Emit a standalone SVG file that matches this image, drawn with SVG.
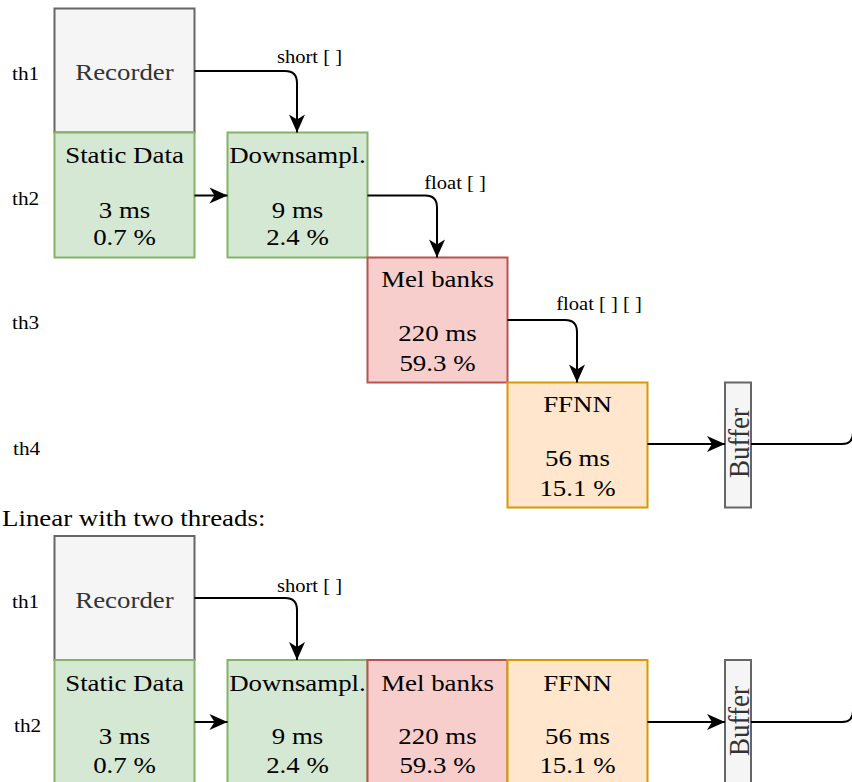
<svg xmlns="http://www.w3.org/2000/svg" width="852" height="782" viewBox="0 0 852 782">
  <style>
    text { font-family: "Liberation Serif", "Times New Roman", serif; }
    .box { stroke-width: 2; }
    .gray { fill: #f5f5f5; stroke: #666666; }
    .green { fill: #d5e8d4; stroke: #82b366; }
    .red { fill: #f8cecc; stroke: #b85450; }
    .orange { fill: #ffe6cc; stroke: #d79b00; }
    .t { font-size: 24px; fill: #000; text-anchor: middle; }
    .tg { font-size: 24px; fill: #333333; text-anchor: middle; }
    .buf { font-size: 27px; fill: #333333; text-anchor: middle; }
    .lbl { font-size: 18.4px; fill: #000; text-anchor: middle; }
    .th { font-size: 19px; fill: #000; }
    .head { font-size: 24px; fill: #000; }
    .edge { fill: none; stroke: #000; stroke-width: 2; }
  </style>
  <defs>
    <marker id="arrow" markerUnits="userSpaceOnUse" markerWidth="20" markerHeight="18" refX="18" refY="8" orient="auto" overflow="visible">
      <path d="M0,0 L18,8 L0,16 L5,8 Z" fill="#000"/>
    </marker>
  </defs>

  <rect width="852" height="782" fill="#ffffff"/>

  <!-- thread labels, upper pipeline -->
  <g id="thread-labels-a">
    <text class="th" transform="translate(12,80) scale(1.12,1)">th1</text>
    <text class="th" transform="translate(12,205) scale(1.12,1)">th2</text>
    <text class="th" transform="translate(12,329) scale(1.12,1)">th3</text>
    <text class="th" transform="translate(13,455) scale(1.12,1)">th4</text>
  </g>

  <!-- upper pipeline: one stage per thread -->
  <g id="a-recorder">
    <rect class="box gray" x="54.5" y="8.5" width="140" height="124"/>
    <text class="tg" transform="translate(124.5,80) scale(1.12,1)">Recorder</text>
  </g>
  <g id="a-static">
    <rect class="box green" x="54.5" y="132.5" width="140" height="125"/>
    <text class="t" transform="translate(124.5,163) scale(1.12,1)">Static Data</text>
    <text class="t" transform="translate(124.5,217.5) scale(1.12,1)">3 ms</text>
    <text class="t" transform="translate(124.5,245) scale(1.12,1)">0.7 %</text>
  </g>
  <g id="a-downsampl">
    <rect class="box green" x="227.5" y="132.5" width="140" height="125"/>
    <text class="t" transform="translate(297.5,163) scale(1.12,1)">Downsampl.</text>
    <text class="t" transform="translate(297.5,217.5) scale(1.12,1)">9 ms</text>
    <text class="t" transform="translate(297.5,245) scale(1.12,1)">2.4 %</text>
  </g>
  <g id="a-mel">
    <rect class="box red" x="367.5" y="257.5" width="140" height="125"/>
    <text class="t" transform="translate(437.5,287) scale(1.12,1)">Mel banks</text>
    <text class="t" transform="translate(437.5,341) scale(1.12,1)">220 ms</text>
    <text class="t" transform="translate(437.5,370.5) scale(1.12,1)">59.3 %</text>
  </g>
  <g id="a-ffnn">
    <rect class="box orange" x="507.5" y="382.5" width="140" height="125"/>
    <text class="t" transform="translate(577.5,412) scale(1.12,1)">FFNN</text>
    <text class="t" transform="translate(577.5,466) scale(1.12,1)">56 ms</text>
    <text class="t" transform="translate(577.5,496) scale(1.12,1)">15.1 %</text>
  </g>
  <g id="a-buffer">
    <rect class="box gray" x="725" y="382.5" width="26" height="125"/>
    <text class="buf" transform="translate(749,443) scale(1.12,1) rotate(-90)">Buffer</text>
  </g>

  <!-- lower pipeline: two threads -->
  <g id="title-b">
    <text class="head" transform="translate(2,526) scale(1.12,1)">Linear with two threads:</text>
  </g>
  <g id="thread-labels-b">
    <text class="th" transform="translate(12,608) scale(1.12,1)">th1</text>
    <text class="th" transform="translate(14,731.5) scale(1.12,1)">th2</text>
  </g>
  <g id="b-recorder">
    <rect class="box gray" x="54.5" y="536" width="140" height="124"/>
    <text class="tg" transform="translate(124.5,608) scale(1.12,1)">Recorder</text>
  </g>
  <g id="b-static">
    <rect class="box green" x="54.5" y="660" width="140" height="125"/>
    <text class="t" transform="translate(124.5,690.5) scale(1.12,1)">Static Data</text>
    <text class="t" transform="translate(124.5,743.5) scale(1.12,1)">3 ms</text>
    <text class="t" transform="translate(124.5,773) scale(1.12,1)">0.7 %</text>
  </g>
  <g id="b-downsampl">
    <rect class="box green" x="227.5" y="660" width="140" height="125"/>
    <text class="t" transform="translate(297.5,690.5) scale(1.12,1)">Downsampl.</text>
    <text class="t" transform="translate(297.5,743.5) scale(1.12,1)">9 ms</text>
    <text class="t" transform="translate(297.5,773) scale(1.12,1)">2.4 %</text>
  </g>
  <g id="b-mel">
    <rect class="box red" x="367.5" y="660" width="140" height="125"/>
    <text class="t" transform="translate(437.5,690.5) scale(1.12,1)">Mel banks</text>
    <text class="t" transform="translate(437.5,743.5) scale(1.12,1)">220 ms</text>
    <text class="t" transform="translate(437.5,773) scale(1.12,1)">59.3 %</text>
  </g>
  <g id="b-ffnn">
    <rect class="box orange" x="507.5" y="660" width="140" height="125"/>
    <text class="t" transform="translate(577.5,690.5) scale(1.12,1)">FFNN</text>
    <text class="t" transform="translate(577.5,743.5) scale(1.12,1)">56 ms</text>
    <text class="t" transform="translate(577.5,773) scale(1.12,1)">15.1 %</text>
  </g>
  <g id="b-buffer">
    <rect class="box gray" x="725" y="660" width="26" height="125"/>
    <text class="buf" transform="translate(749,721) scale(1.12,1) rotate(-90)">Buffer</text>
  </g>

  <!-- connectors -->
  <g id="connectors">
    <path class="edge" d="M194.5,71 H285 Q297,71 297,83 V132.5" marker-end="url(#arrow)"/>
    <text class="lbl" transform="translate(309.5,62.5) scale(1.12,1)">short [ ]</text>
    <path class="edge" d="M194.5,195.5 H227.5" marker-end="url(#arrow)"/>
    <path class="edge" d="M367.5,195.5 H425 Q437,195.5 437,207.5 V257.5" marker-end="url(#arrow)"/>
    <text class="lbl" transform="translate(455,188.5) scale(1.12,1)">float [ ]</text>
    <path class="edge" d="M507.5,320 H565 Q577,320 577,332 V382.5" marker-end="url(#arrow)"/>
    <text class="lbl" transform="translate(599,310) scale(1.12,1)">float [ ] [ ]</text>
    <path class="edge" d="M647.5,444 H725" marker-end="url(#arrow)"/>
    <path class="edge" d="M751,444 H842 Q853,444 853,433 V0"/>

    <path class="edge" d="M194.5,598 H285 Q297,598 297,610 V660" marker-end="url(#arrow)"/>
    <text class="lbl" transform="translate(309.5,591.5) scale(1.12,1)">short [ ]</text>
    <path class="edge" d="M194.5,722 H227.5" marker-end="url(#arrow)"/>
    <path class="edge" d="M647.5,722 H725" marker-end="url(#arrow)"/>
    <path class="edge" d="M751,722 H842 Q853,722 853,711 V540"/>
  </g>
</svg>
